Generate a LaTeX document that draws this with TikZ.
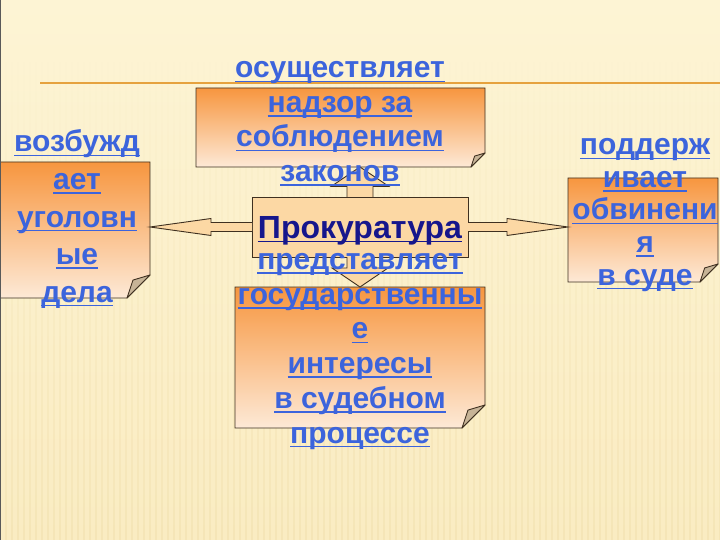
\documentclass[tikz,border=0pt]{standalone}
\usepackage{fontspec}
\setmainfont{Liberation Sans}
\usetikzlibrary{calc,fadings}
\newcommand{\myul}[1]{\setbox0=\hbox{#1}\rlap{\rule[-4.4pt]{\wd0}{1.8pt}}\box0}
\definecolor{bgtop}{HTML}{FDF4D4}
\definecolor{bgbot}{HTML}{FAECC2}
\definecolor{stripec}{HTML}{E8D398}
\definecolor{rulec}{HTML}{E6A23E}
\definecolor{boxtop}{HTML}{F7963F}
\definecolor{boxbot}{HTML}{FDE9D6}
\definecolor{flapc}{HTML}{C7B497}
\definecolor{edgec}{HTML}{3F3020}
\definecolor{armc}{HTML}{FCD8A4}
\definecolor{txtc}{HTML}{3C64DC}
\definecolor{navyc}{HTML}{16168C}
\tikzfading[name=stripefade, top color=transparent!100, bottom color=transparent!75]
\tikzset{
  boxarea/.style={inner sep=0pt, outer sep=0pt, draw=none},
  lbl/.style={text=txtc, font=\fontsize{30}{34}\selectfont\bfseries, inner sep=0pt, anchor=base},
  armshape/.style={fill=armc, draw=edgec, line width=0.9pt, line join=miter},
}
\newcommand{\foldbox}[2]{%
  \path[top color=boxtop, bottom color=boxbot, draw=edgec, line width=0.9pt]
    (#1.north west) -- (#1.north east) -- ([yshift=#2]#1.south east)
    -- ([xshift=-#2]#1.south east) -- (#1.south west) -- cycle;
  \path[fill=flapc, draw=edgec, line width=0.9pt, line join=round]
    ([yshift=#2]#1.south east) -- ([xshift=-#2]#1.south east)
    -- ([xshift=-0.74*#2, yshift=0.78*#2]#1.south east) -- cycle;
}
\begin{document}
\begin{tikzpicture}[x=1pt,y=-1pt]
\useasboundingbox (0,0) rectangle (720,540);
\clip (0,0) rectangle (720,540);
% background
\shade[top color=bgtop, bottom color=bgbot] (0,0) rectangle (720,540);
\draw[stripec, line width=2.2pt, path fading=stripefade]
  \foreach \xx in {0,6,...,720} {(\xx,60) -- (\xx,540)};
\draw[rulec, line width=2pt] (40,83) -- (720,83);
% boxes
\node[boxarea, minimum width=289pt, minimum height=79pt] (T) at (340.5,127.5) {};
\node[boxarea, minimum width=154pt, minimum height=136pt] (L) at (73,230) {};
\node[boxarea, minimum width=150pt, minimum height=104pt] (R) at (643,230) {};
\node[boxarea, minimum width=250pt, minimum height=141pt] (B) at (360,357.5) {};
\foldbox{T}{14pt}
\foldbox{L}{23pt}
\foldbox{R}{18pt}
\foldbox{B}{23pt}
% centre box
\node[boxarea, draw=edgec, fill=armc, line width=0.9pt, minimum width=216pt, minimum height=60pt] (C) at (360,227) {};
% arrows
\coordinate (lt) at (L.east |- C.west);
\coordinate (rt) at (R.west |- C.east);
\coordinate (ut) at (C.north |- T.south);
\coordinate (dt) at (C.south |- B.north);
\draw[armshape] ([yshift=4.5pt]C.west) -- ($(lt)+(61,-4.5)$) -- ($(lt)+(61,-8.5)$) -- (lt)
  -- ($(lt)+(61,8.5)$) -- ($(lt)+(61,4.5)$) -- ([yshift=-4.5pt]C.west);
\draw[armshape] ([yshift=4.5pt]C.east) -- ($(rt)+(-61,-4.5)$) -- ($(rt)+(-61,-8.5)$) -- (rt)
  -- ($(rt)+(-61,8.5)$) -- ($(rt)+(-61,4.5)$) -- ([yshift=-4.5pt]C.east);
\draw[armshape] ([xshift=-13pt]C.north) -- ($(ut)+(-13,19.5)$) -- ($(ut)+(-29,19.5)$) -- (ut)
  -- ($(ut)+(29,19.5)$) -- ($(ut)+(13,19.5)$) -- ([xshift=13pt]C.north);
\draw[armshape] ([xshift=-13pt]C.south) -- ($(dt)+(-13,-19)$) -- ($(dt)+(-28,-19)$) -- (dt)
  -- ($(dt)+(28,-19)$) -- ($(dt)+(13,-19)$) -- ([xshift=13pt]C.south);
% texts
\foreach \s [count=\i from 0] in {осуществляет,надзор за,соблюдением,законов} {
  \node[lbl] (tt\i) at (340,78+34.5*\i) {\myul{\s}};
}
\foreach \s [count=\i from 0] in {возбужд,ает,уголовн,ые,дела} {
  \node[lbl] (tl\i) at (77,152+37.5*\i) {\myul{\s}};
}
\foreach \s [count=\i from 0] in {поддерж,ивает,обвинени,я,в суде} {
  \node[lbl] (tr\i) at (645,155+32.5*\i) {\myul{\s}};
}
\foreach \s [count=\i from 0] in {представляет,государственны,е,интересы,в судебном,процессе} {
  \node[lbl] (tb\i) at (360,269.5+34.7*\i) {\myul{\s}};
}
\node[lbl, text=navyc, font=\fontsize{32}{36}\selectfont\bfseries] (tc) at (360,238) {\myul{Прокуратура}};
\draw[gray!70!black, line width=1pt] (0,0) rectangle (720,540);
\end{tikzpicture}
\end{document}
